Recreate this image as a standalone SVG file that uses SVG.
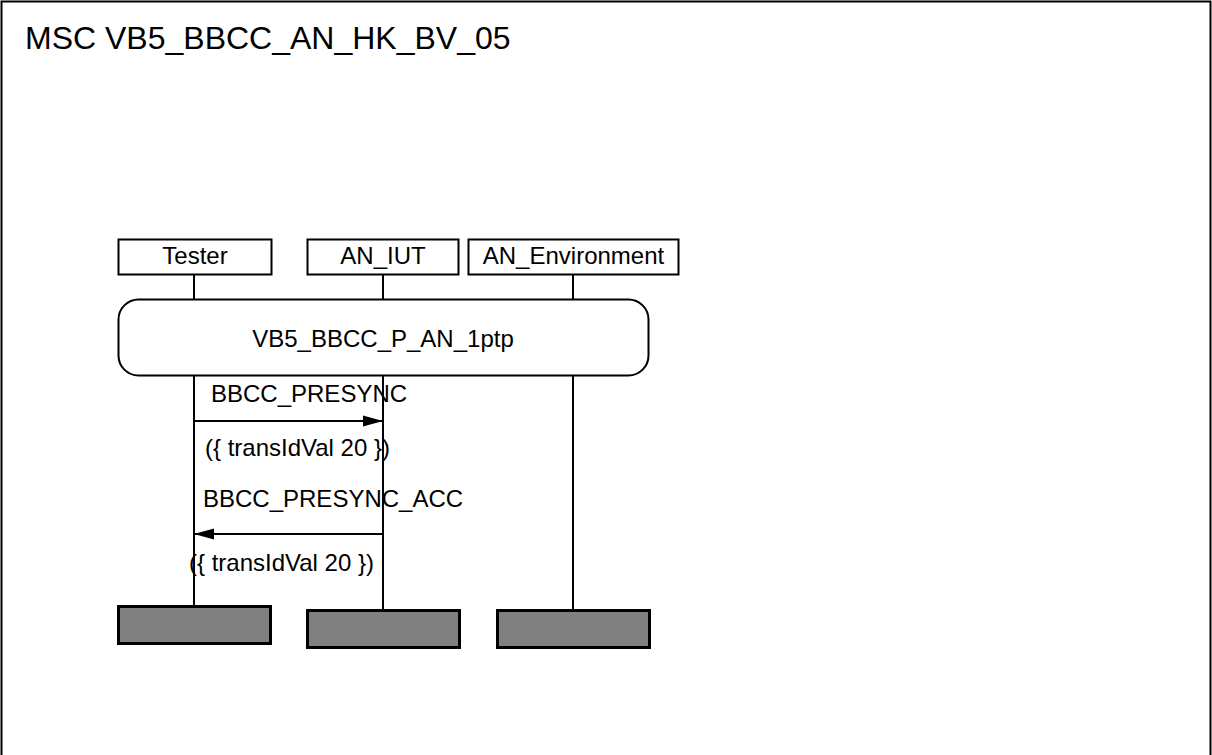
<svg xmlns="http://www.w3.org/2000/svg" width="1212" height="755" viewBox="0 0 1212 755">
<style>
text{font-family:"Liberation Sans",Arial,sans-serif;fill:#000}
.lbl{font-size:24px}
.title{font-size:32px}
.head{fill:#fff;stroke:#000;stroke-width:2}
.life{stroke:#000;stroke-width:2;fill:none}
.msg{stroke:#000;stroke-width:2;fill:none}
.end{fill:#808080;stroke:#000;stroke-width:3}
</style>
<defs>
<marker id="ah" markerWidth="22" markerHeight="12" refX="20" refY="6" orient="auto" markerUnits="userSpaceOnUse">
<path d="M0,0.5 L20,6 L0,11.5 Z" fill="#000"/>
</marker>
</defs>
<rect x="0" y="0" width="1212" height="755" fill="#fff"/>
<path d="M1.5,755 V1.5 H1210.5 V755" fill="none" stroke="#000" stroke-width="2"/>
<text class="title" x="25" y="49">MSC VB5_BBCC_AN_HK_BV_05</text>
<g id="lifelines">
<line class="life" x1="194" y1="275" x2="194" y2="299"/>
<line class="life" x1="383" y1="275" x2="383" y2="299"/>
<line class="life" x1="573" y1="275" x2="573" y2="299"/>
<line class="life" x1="194" y1="376" x2="194" y2="606"/>
<line class="life" x1="383" y1="376" x2="383" y2="610"/>
<line class="life" x1="573" y1="376" x2="573" y2="610"/>
</g>
<g id="tester">
<rect class="head" x="118.5" y="239.5" width="153" height="35"/>
<text class="lbl" x="195" y="264" text-anchor="middle">Tester</text>
<rect class="end" x="118.5" y="606.5" width="152" height="37"/>
</g>
<g id="an_iut">
<rect class="head" x="307.5" y="239.5" width="151" height="35"/>
<text class="lbl" x="383" y="264" text-anchor="middle">AN_IUT</text>
<rect class="end" x="307.5" y="610.5" width="152" height="37"/>
</g>
<g id="an_environment">
<rect class="head" x="468.5" y="239.5" width="210" height="35"/>
<text class="lbl" x="573.5" y="264" text-anchor="middle">AN_Environment</text>
<rect class="end" x="497.5" y="610.5" width="152" height="37"/>
</g>
<g id="reference">
<rect class="head" x="118.5" y="299.5" width="530" height="76" rx="20" ry="20"/>
<text class="lbl" x="383" y="347" text-anchor="middle">VB5_BBCC_P_AN_1ptp</text>
</g>
<g id="connectors">
<line class="msg" x1="194" y1="421" x2="383" y2="421" marker-end="url(#ah)"/>
<text class="lbl" x="211" y="402">BBCC_PRESYNC</text>
<text class="lbl" x="205" y="456">({ transIdVal 20 })</text>
<line class="msg" x1="383" y1="534" x2="194" y2="534" marker-end="url(#ah)"/>
<text class="lbl" x="203" y="507">BBCC_PRESYNC_ACC</text>
<text class="lbl" x="189" y="571">({ transIdVal 20 })</text>
</g>
</svg>
